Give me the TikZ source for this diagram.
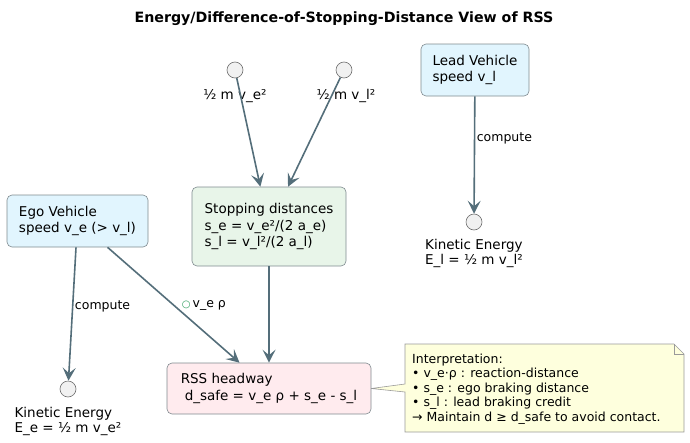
\documentclass[tikz,border=0pt]{standalone}
\usepackage{fontspec}
\setmainfont{DejaVu Sans}
\usepackage{tikz}
\usetikzlibrary{arrows.meta,positioning,backgrounds}
\definecolor{edgec}{HTML}{546E7A}
\definecolor{boxline}{HTML}{7F8A8F}
\definecolor{bluefill}{HTML}{E1F5FE}
\definecolor{greenfill}{HTML}{E8F5E9}
\definecolor{pinkfill}{HTML}{FFEBEE}
\definecolor{notefill}{HTML}{FEFFDD}
\definecolor{noteline}{HTML}{9A9A9A}
\definecolor{portfill}{HTML}{F1F1F1}
\definecolor{portline}{HTML}{6E6E6E}
\definecolor{plusc}{HTML}{2E9E5E}

\begin{document}
\begin{tikzpicture}[x=1pt,y=-1pt]
\tikzstyle{every node}+=[font=\fontsize{13.5}{16.5}\selectfont]
\tikzstyle{box}=[draw=boxline, line width=0.6pt, rounded corners=5pt, align=left, inner xsep=10pt, inner ysep=0pt]
\tikzstyle{port}=[circle, draw=portline, fill=portfill, line width=0.6pt, minimum size=16pt, inner sep=0pt]
\tikzstyle{flow}=[draw=edgec, line width=1.6pt, -{Stealth[length=13pt,width=13pt,inset=5.5pt]}]
\tikzstyle{lbl}=[font=\fontsize{12.5}{15}\selectfont, inner sep=1.5pt]
\tikzstyle{portlbl}=[font=\fontsize{13.5}{15}\selectfont, align=left, inner sep=1pt]
\useasboundingbox (0,0) rectangle (690,442);
\node[font=\bfseries\fontsize{14.2}{16}\selectfont] (title) at (344,19) {Energy/Difference-of-Stopping-Distance View of RSS};
\node[box, fill=bluefill, minimum width=108pt, minimum height=52pt] (lead) at (475,70) {Lead Vehicle\\speed v\_l};
\node[port] (kl) at (474,222) {};
\node[portlbl, below=8pt of kl] (kllbl) {Kinetic Energy\\E\_l = ½ m v\_l²};
\node[port] (pe) at (235,70) {};
\node[portlbl, below=10pt of pe] (pelbl) {½ m v\_e²};
\node[port] (pl) at (344,70) {};
\node[portlbl, below=10pt of pl, xshift=2pt] (pllbl) {½ m v\_l²};
\node[box, fill=greenfill, minimum width=154pt, minimum height=79pt] (stop) at (269,226.5) {Stopping distances\\s\_e = v\_e²/(2 a\_e)\\s\_l = v\_l²/(2 a\_l)};
\node[box, fill=bluefill, minimum width=141pt, minimum height=52pt] (ego) at (77.5,221) {Ego Vehicle\\speed v\_e (> v\_l)};
\node[port] (ke) at (68,389) {};
\node[portlbl, below=9pt of ke] (kelbl) {Kinetic Energy\\E\_e = ½ m v\_e²};
\node[box, fill=pinkfill, minimum width=204pt, minimum height=51pt] (rss) at (269,388.5) {RSS headway\\\hspace*{4pt}d\_safe = v\_e ρ + s\_e - s\_l};
\node[font=\fontsize{12.5}{14.5}\selectfont, align=left, anchor=west, inner sep=0pt] (note) at (412,389) {Interpretation:\\• v\_e·ρ : reaction-distance\\• s\_e : ego braking distance\\• s\_l : lead braking credit\\→ Maintain d ≥ d\_safe to avoid contact.};
\begin{scope}[on background layer]
\draw[draw=noteline, fill=notefill, line width=0.6pt] (405,344) -- (674,344) -- (684,354) -- (684,432) -- (405,432) -- (405,392) -- (rss.east) -- (405,384) -- cycle;
\draw[draw=noteline, line width=0.6pt] (674,344) -- (674,354) -- (684,354);
\end{scope}
\draw[flow] (lead) -- node[lbl, pos=0.36, anchor=west] (c1) {compute} (kl);
\draw[flow] (pe) -- (stop);
\draw[flow] (pl) -- (stop);
\draw[flow] (ego) -- node[lbl, pos=0.44, anchor=west] (c2) {compute} (ke);
\draw[flow] (ego) -- node[lbl, pos=0.5, anchor=west, xshift=6pt] (rho) {{\color{plusc}\fontsize{10}{10}\selectfont ○}\,v\_e ρ} (rss);
\draw[flow] (stop) -- (rss);
\end{tikzpicture}
\end{document}
